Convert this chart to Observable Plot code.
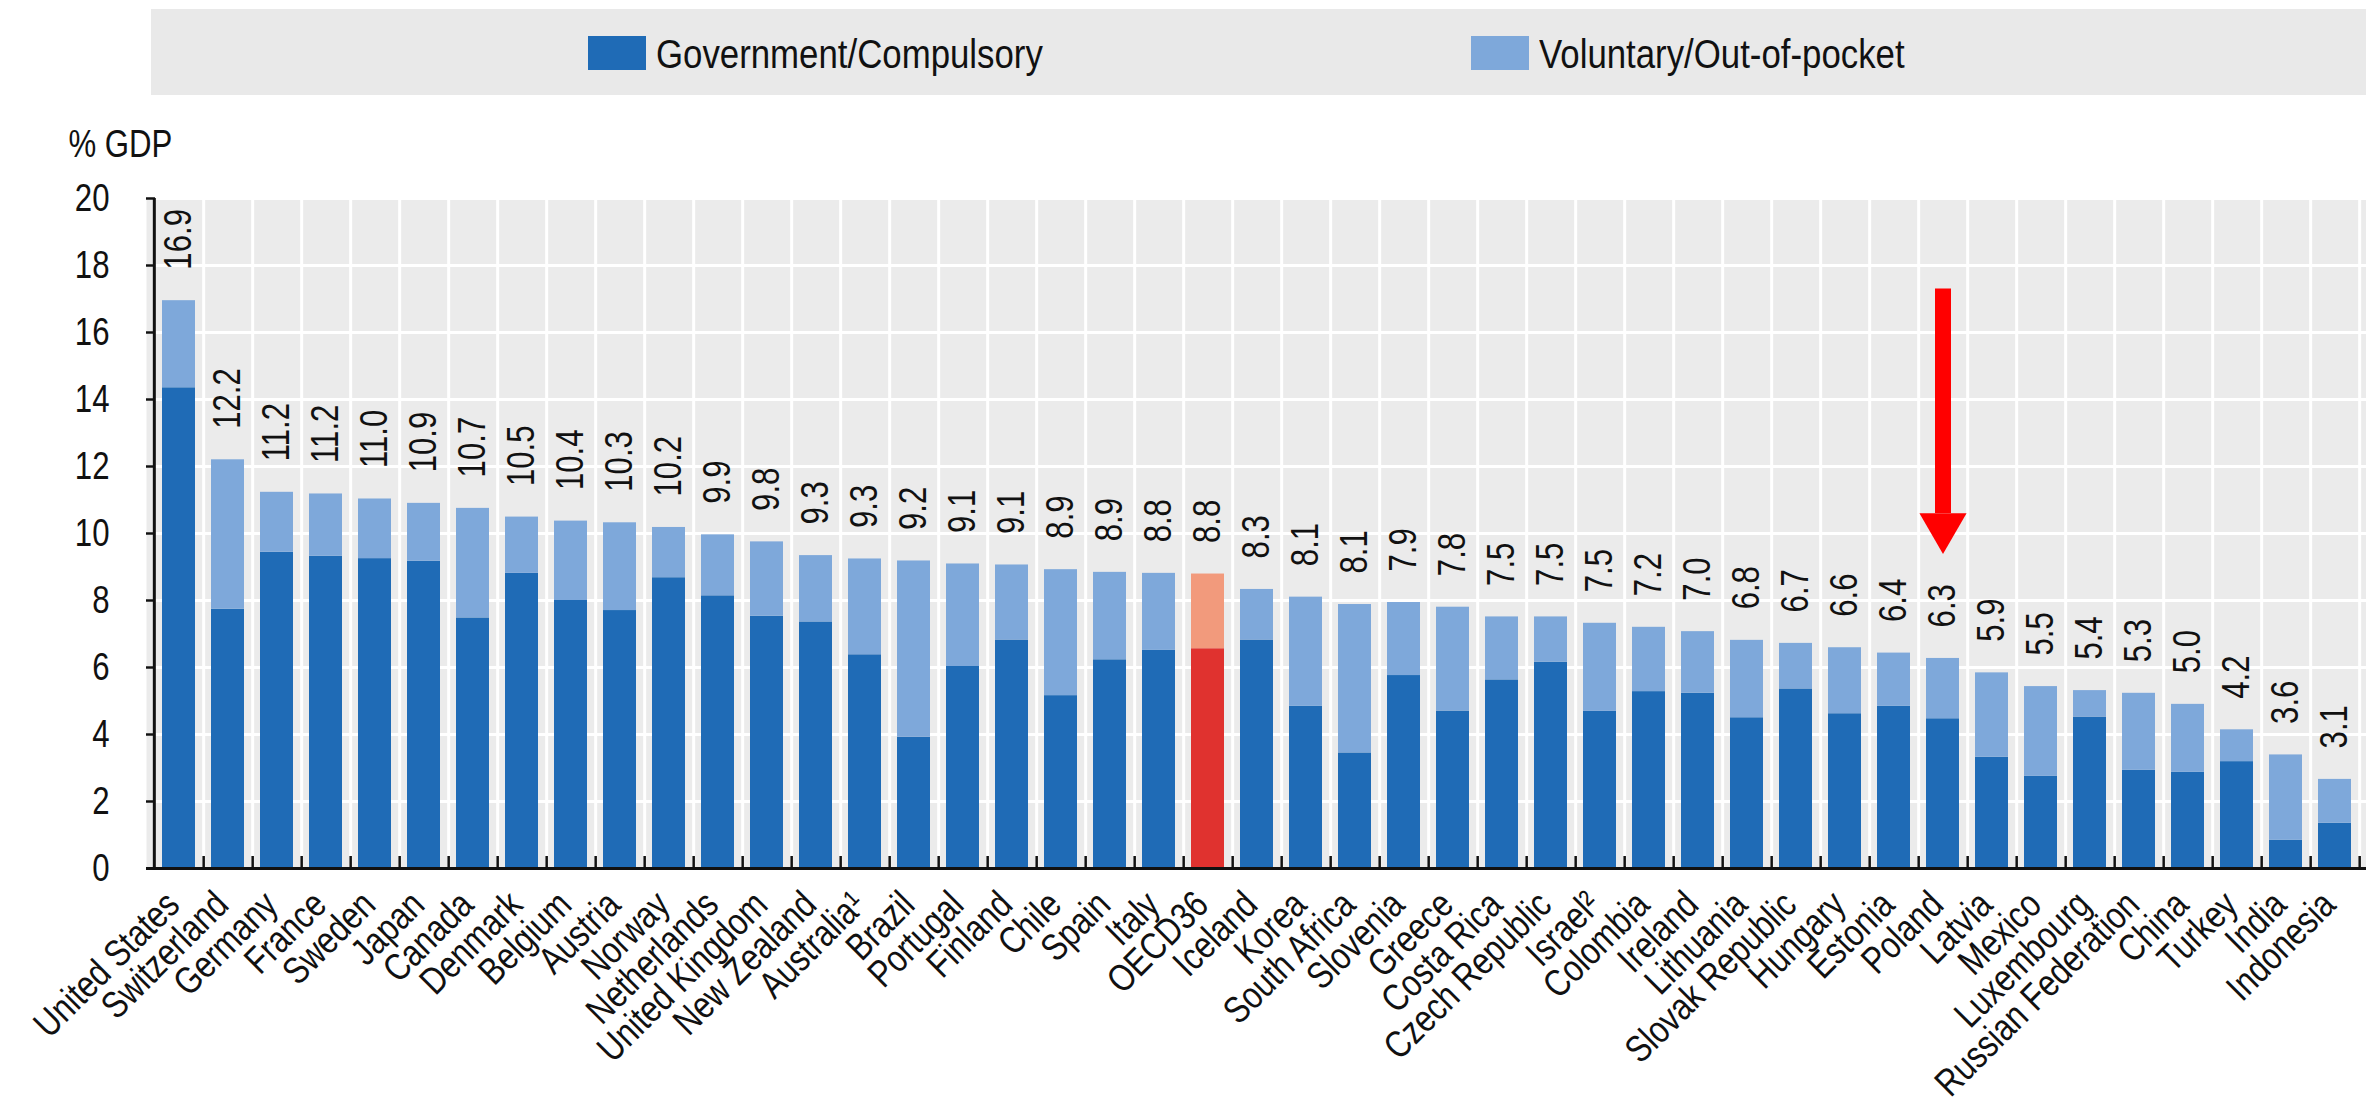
<!DOCTYPE html>
<html>
<head>
<meta charset="utf-8">
<script src="https://cdn.jsdelivr.net/npm/d3@7"></script>
<script src="https://cdn.jsdelivr.net/npm/@observablehq/plot@0.6"></script>
<style>
  html, body { margin: 0; padding: 0; background: #fff; }
  body { width: 2366px; height: 1115px; overflow: hidden; position: relative; font-family: 'Liberation Sans', Arial, sans-serif; }
  #legend { position: absolute; left: 151px; top: 9px; width: 2215px; height: 86px; background: #e9e9e9; }
  .item { position: absolute; top: 0; height: 86px; display: flex; align-items: center; }
  .sw { width: 58px; height: 34px; margin-right: 10px; margin-top: 1px; flex: none; }
  .lt { font-size: 40px; color: #111; line-height: 1; margin-top: 4px; white-space: nowrap; transform: scaleX(0.87); transform-origin: left center; }
  #chart { position: absolute; left: 0; top: 100px; }
</style>
</head>
<body>
<div id="legend"></div>
<div id="chart"></div>
<script>
// ---------- data ----------
const countries = ["United States","Switzerland","Germany","France","Sweden","Japan","Canada","Denmark","Belgium","Austria","Norway","Netherlands","United Kingdom","New Zealand","Australia\u00B9","Brazil","Portugal","Finland","Chile","Spain","Italy","OECD36","Iceland","Korea","South Africa","Slovenia","Greece","Costa Rica","Czech Republic","Israel\u00B2","Colombia","Ireland","Lithuania","Slovak Republic","Hungary","Estonia","Poland","Latvia","Mexico","Luxembourg","Russian Federation","China","Turkey","India","Indonesia"];
const government = [14.35,7.74,9.44,9.32,9.25,9.17,7.48,8.81,8.00,7.70,8.68,8.14,7.53,7.36,6.38,3.92,6.03,6.82,5.16,6.23,6.51,6.56,6.82,4.84,3.45,5.76,4.70,5.63,6.16,4.69,5.28,5.23,4.50,5.36,4.62,4.84,4.47,3.32,2.75,4.52,2.93,2.87,3.19,0.84,1.35];
const voluntary  = [2.60,4.46,1.79,1.86,1.78,1.73,3.27,1.68,2.37,2.62,1.50,1.82,2.22,1.98,2.86,5.26,3.06,2.24,3.76,2.61,2.30,2.23,1.51,3.26,4.43,2.18,3.10,1.88,1.35,2.63,1.92,1.84,2.31,1.36,1.97,1.59,1.80,2.52,2.68,0.79,2.30,2.03,0.95,2.55,1.31];
const valueLabels = ["16.9","12.2","11.2","11.2","11.0","10.9","10.7","10.5","10.4","10.3","10.2","9.9","9.8","9.3","9.3","9.2","9.1","9.1","8.9","8.9","8.8","8.8","8.3","8.1","8.1","7.9","7.8","7.5","7.5","7.5","7.2","7.0","6.8","6.7","6.6","6.4","6.3","5.9","5.5","5.4","5.3","5.0","4.2","3.6","3.1"];
const seriesNames = ["Government/Compulsory","Voluntary/Out-of-pocket"];
const seriesColors = ["#1f6bb6","#7ea8da"];
const highlightColors = ["#e0322f","#f29a7c"];
const highlightCountry = "OECD36";
const yTicks = [0,2,4,6,8,10,12,14,16,18,20];
const yAxisTitle = "% GDP";
const arrowCountry = "Poland";
const arrowShaft = [17.3, 10.6];   // top and bottom of shaft (% GDP units)
const arrowHeadAt = 10.2;           // centre of the arrow head

// ---------- style ----------
const FONT = "'Liberation Sans', Arial, sans-serif";
const FS = 38;       // font size in px
const NARROW = 0.82; // horizontal condensing (Arial Narrow look)

// ---------- legend ----------
const legend = document.getElementById("legend");
const legendLeft = [437, 1320];
seriesNames.forEach((name, i) => {
  const it = document.createElement("div");
  it.className = "item";
  it.style.left = legendLeft[i] + "px";
  it.innerHTML = `<div class="sw" style="background:${seriesColors[i]}"></div><div class="lt">${name}</div>`;
  legend.appendChild(it);
});

// ---------- chart ----------
const rows = countries.flatMap((c, i) => [
  {country: c, part: 0, value: government[i]},
  {country: c, part: 1, value: voluntary[i]}
]);
const totals = countries.map((c, i) => ({country: c, total: government[i] + voluntary[i], label: valueLabels[i]}));

const W = 2366, H = 1015, ML = 146, MR = 0, MT = 98, MB = 247;
const step = (W - ML - MR) / countries.length;

const chart = Plot.plot({
  width: W, height: H,
  marginLeft: ML, marginRight: MR, marginTop: MT, marginBottom: MB,
  style: {fontFamily: FONT, fontSize: FS + "px", color: "#111", background: "transparent", overflow: "visible"},
  x: {domain: countries, paddingInner: 0.33, paddingOuter: 0.165, align: 0.5, label: null},
  y: {domain: [0, 20], label: null},
  color: {type: "identity"},
  marks: [
    Plot.frame({fill: "#ebebeb", stroke: null}),
    Plot.ruleY(yTicks, {y: d => d, stroke: "#fff", strokeWidth: 3}),
    Plot.ruleX(countries, {x: d => d, dx: step / 2, stroke: "#fff", strokeWidth: 3}),
    Plot.barY(rows, {
      x: "country", y: "value",
      fill: d => (d.country === highlightCountry ? highlightColors : seriesColors)[d.part]
    }),
    Plot.ruleY([0], {y: d => d, stroke: "#111", strokeWidth: 3}),
    Plot.ruleX([countries[0]], {x: d => d, dx: -step / 2, y1: 0, y2: 20, stroke: "#111", strokeWidth: 3}),
    Plot.axisY({ticks: yTicks, tickSize: -9, tickPadding: 46, strokeWidth: 2.5, tickFormat: d => d, label: null}),
    Plot.axisX({tickSize: 0, tickRotate: -45, tickPadding: 30, dx: -6, label: null}),
    Plot.axisX({tickSize: -12, dx: step / 2, tickFormat: () => "", strokeWidth: 2.5, label: null}),
    Plot.text(totals, {x: "country", y: "total", text: "label", rotate: -90, textAnchor: "start", dy: -31, fill: "#111"}),
    Plot.ruleX([arrowCountry], {x: d => d, y1: arrowShaft[0], y2: arrowShaft[1], stroke: "#ff0000", strokeWidth: 16}),
    Plot.dot([arrowCountry], {x: d => d, y: arrowHeadAt, symbol: "triangle", r: 17.5, rotate: 180, fill: "#ff0000", stroke: null}),
    Plot.text([yAxisTitle], {text: d => d, frameAnchor: "top-left", dx: -78, dy: -68, textAnchor: "start", fill: "#111"})
  ]
});

document.getElementById("chart").appendChild(chart);

// condense every text along its own direction (narrow typeface look)
d3.select(chart).selectAll("text").each(function() {
  const L = this.getComputedTextLength();
  if (L > 0) {
    this.setAttribute("textLength", (L * NARROW).toFixed(2));
    this.setAttribute("lengthAdjust", "spacingAndGlyphs");
  }
});
</script>
</body>
</html>
